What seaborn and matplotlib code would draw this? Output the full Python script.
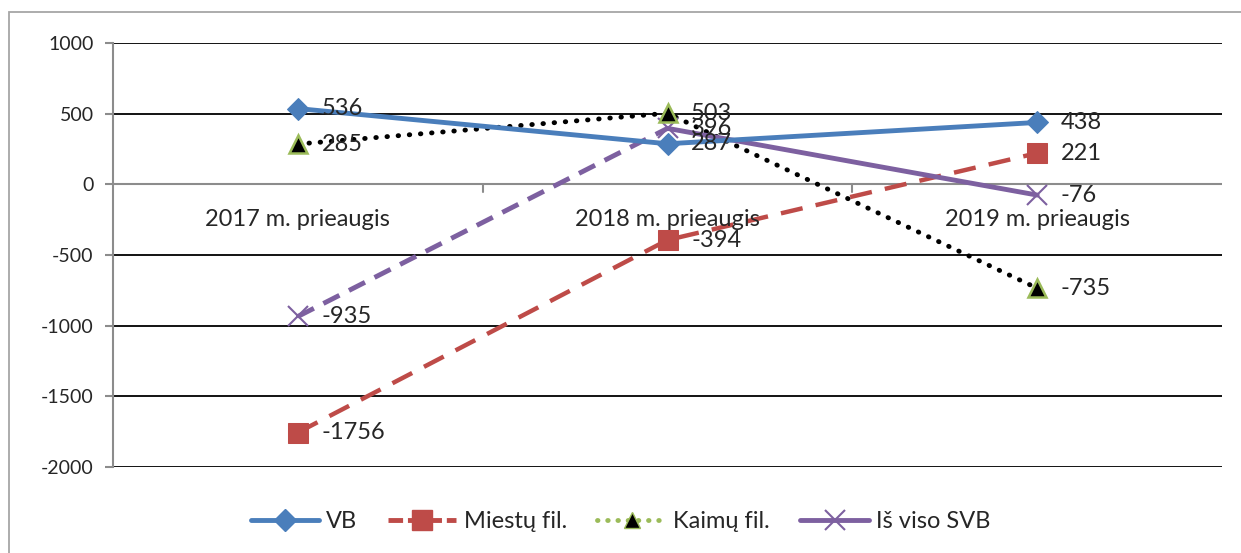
import seaborn as sns
import matplotlib.pyplot as plt
import pandas as pd
import numpy as np
from matplotlib.patches import Rectangle
from matplotlib.lines import Line2D

categories = ['2017 m. prieaugis', '2018 m. prieaugis', '2019 m. prieaugis']
vb = [536, 287, 438]
miestu = [-1756, -394, 221]
kaimu = [285, 503, -735]
is_viso = [-935, 396, -76]

sns.set_style('white')
plt.rcParams['font.family'] = ['Lato', 'DejaVu Sans']
plt.rcParams['axes.unicode_minus'] = False

fig = plt.figure(figsize=(12.41, 5.53), dpi=100)
ax = fig.add_axes([113 / 1241, 1 - 467 / 553, (1222 - 113) / 1241, (467 - 43) / 553])

x = np.arange(len(categories))
blue = '#4a7ebb'
red = '#be4b48'
purple = '#7d60a0'
green = '#9bbb59'

# gridlines
for yv in [1000, 500, -500, -1000, -1500, -2000]:
    ax.axhline(yv, color='black', lw=1.3, zorder=1)
ax.axhline(0, color='#8c8c8c', lw=1.5, zorder=1)

df_vb = pd.DataFrame({'x': x, 'y': vb})
df_m = pd.DataFrame({'x': x, 'y': miestu})
df_k = pd.DataFrame({'x': x, 'y': kaimu})
df_s = pd.DataFrame({'x': x, 'y': is_viso})

sns.lineplot(data=df_m, x='x', y='y', ax=ax, color=red, lw=3.2,
             linestyle=(0, (5, 3)), marker='s', markersize=14, markeredgecolor=red, zorder=3)
sns.lineplot(data=df_k, x='x', y='y', ax=ax, color='black', lw=3.5,
             linestyle=(0, (0.1, 2.2)), dash_capstyle='round', zorder=4)
ax.plot(df_k['x'], df_k['y'], ls='none', marker='^', markersize=13,
        markerfacecolor='black', markeredgecolor=green, markeredgewidth=1.8, zorder=6)
sns.lineplot(data=df_s.iloc[:2], x='x', y='y', ax=ax, color=purple, lw=3.5,
             linestyle=(0, (3.7, 2.2)), zorder=4)
sns.lineplot(data=df_s.iloc[1:], x='x', y='y', ax=ax, color=purple, lw=3.5, zorder=4)
ax.plot(df_s['x'], df_s['y'], ls='none', marker='x', markersize=14,
        markeredgecolor=purple, markeredgewidth=1.5, zorder=5)
sns.lineplot(data=df_vb, x='x', y='y', ax=ax, color=blue, lw=3.5, marker='D',
             markersize=11, markeredgecolor=blue, zorder=5)

for series in [vb, miestu, kaimu, is_viso]:
    for xi, yi in zip(x, series):
        ax.annotate(str(yi), (xi, yi), xytext=(17, 0), textcoords='offset points',
                    va='center', ha='left', fontsize=17, zorder=7)

for xi, c in zip(x, categories):
    ax.annotate(c, (xi, 0), xytext=(0, -25), textcoords='offset points',
                ha='center', va='center', fontsize=17)

# tick marks on zero line
for xb in [0.5, 1.5]:
    ax.plot([xb, xb], [0, -55], color='#8c8c8c', lw=1.5, zorder=1)

ax.set_xlim(-0.5, 2.5)
ax.set_ylim(-2000, 1000)
ax.set_yticks([1000, 500, 0, -500, -1000, -1500, -2000])
ax.set_xticks([])
ax.set_xlabel('')
ax.set_ylabel('')
ax.tick_params(axis='y', labelsize=14, length=6, color='#8c8c8c', width=1.5, left=True, pad=8)
for s in ['top', 'right', 'bottom']:
    ax.spines[s].set_visible(False)
ax.spines['left'].set_color('#8c8c8c')
ax.spines['left'].set_linewidth(1.5)

handles = [
    Line2D([], [], color=blue, lw=3.5, marker='D', markersize=11),
    Line2D([], [], color=red, lw=3.5, linestyle=(0, (3, 1)), marker='s', markersize=14),
    Line2D([], [], color=green, lw=3.5, linestyle=(0, (0.1, 2)), dash_capstyle='round',
           marker='^', markersize=12, markerfacecolor='black', markeredgecolor=green),
    Line2D([], [], color=purple, lw=3.5, marker='x', markersize=14, markeredgewidth=1.5),
]
labels = ['VB', 'Miestų fil.', 'Kaimų fil.', 'Iš viso SVB']
fig.legend(handles, labels, loc='center', bbox_to_anchor=(0.5, 1 - 522 / 553), ncol=4,
           frameon=False, fontsize=17, handlelength=2.9, columnspacing=1.3, handletextpad=0.3)

fig.patches.append(Rectangle((9 / 1241, -0.1), 1.2, 1 - 12 / 553 + 0.1, transform=fig.transFigure,
                             fill=False, edgecolor='#a6a6a6', lw=1.3))

fig.savefig('out.png', dpi=100)
